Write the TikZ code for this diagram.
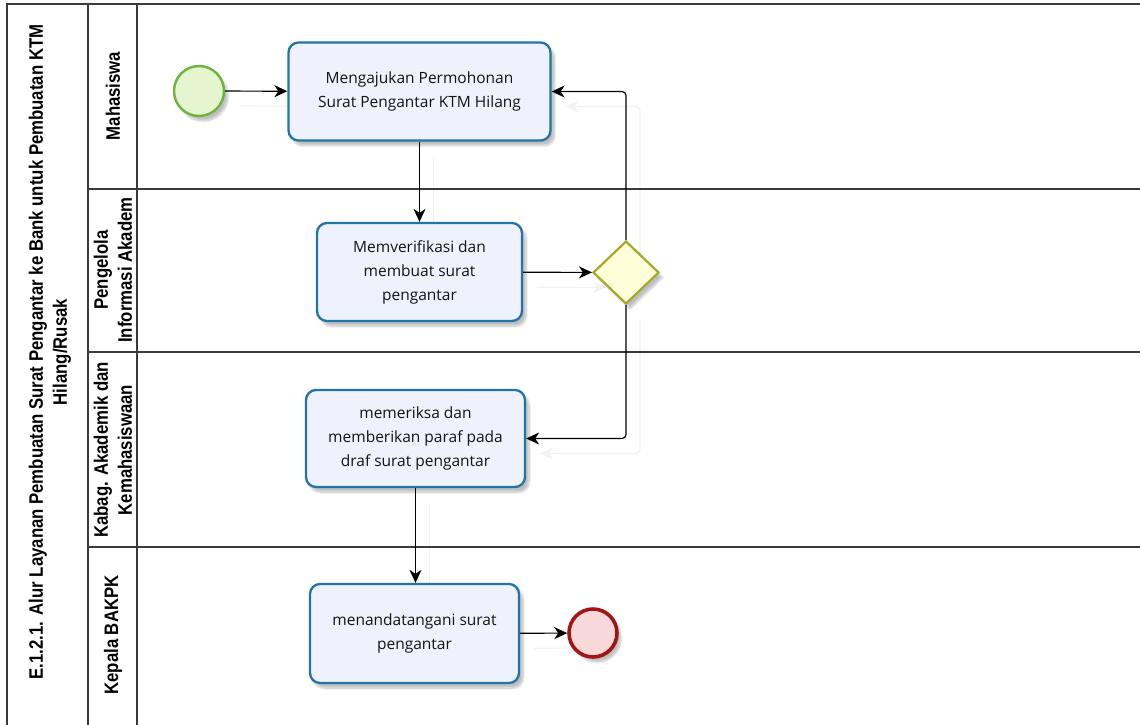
\documentclass[tikz,border=0pt]{standalone}
\usepackage{fontspec}
\setmainfont{Open Sans}
\newfontfamily\lanefont[FakeStretch=0.86]{Liberation Sans}
\usetikzlibrary{shapes.geometric,arrows.meta,shadows.blur,backgrounds}

\definecolor{taskblue}{HTML}{2274A5}
\definecolor{taskfill}{HTML}{EEF2FC}
\definecolor{startgreen}{HTML}{6DB33F}
\definecolor{startfill}{HTML}{E4F5CF}
\definecolor{endred}{HTML}{A31515}
\definecolor{endfill}{HTML}{F7D9DA}
\definecolor{gwline}{HTML}{A5A829}
\definecolor{gwfill}{HTML}{FEFED8}
\definecolor{laneline}{HTML}{3A3A3A}

\tikzset{
  softshadow/.style={blur shadow={shadow xshift=4pt,shadow yshift=-5pt,shadow blur steps=8,shadow opacity=25}},
  task/.style={rectangle,rounded corners=10pt,draw=taskblue,line width=2.3pt,fill=taskfill,
    align=center,font=\fontsize{15.5}{24}\selectfont,text=black!92,softshadow},
  startev/.style={circle,draw=startgreen,line width=2.4pt,fill=startfill,minimum size=50pt,inner sep=0pt,softshadow},
  endev/.style={circle,draw=endred,line width=3.6pt,fill=endfill,minimum size=48pt,inner sep=0pt,softshadow},
  gateway/.style={diamond,draw=gwline,line width=2.2pt,fill=gwfill,minimum width=66pt,minimum height=63pt,inner sep=0pt,softshadow},
  conn/.style={draw=black,line width=1.2pt,rounded corners=4pt,-{Stealth[length=13pt,width=12pt,inset=4pt]}},
  ghost/.style={draw=black!5,line width=1.2pt,rounded corners=4pt,-{Stealth[length=13pt,width=12pt,inset=4pt]}},
  lanebox/.style={draw=laneline,line width=1.4pt},
  lanelabel/.style={rotate=90,align=center,font=\lanefont\bfseries\fontsize{19.5}{24}\selectfont},
}

\begin{document}
\begin{tikzpicture}[x=1pt,y=-1pt]
  \useasboundingbox (0,0) rectangle (1140,724);
  \begin{scope}
    \clip (0,0) rectangle (1140,724);
    % pool outline, title column and lane header column
    \draw[lanebox] (7,4) rectangle (1160,740);
    \draw[lanebox] (88,4) -- (88,740);
    \draw[lanebox] (137,4) -- (137,740);
    % lane separators
    \draw[lanebox] (88,189) -- (1160,189);
    \draw[lanebox] (88,352) -- (1160,352);
    \draw[lanebox] (88,547) -- (1160,547);
  \end{scope}

  % pool title and lane names
  \node[lanelabel] (title) at (50,352)
    {E.1.2.1. Alur Layanan Pembuatan Surat Pengantar ke Bank untuk Pembuatan KTM\\Hilang/Rusak};
  \node[lanelabel] (laneA) at (113,96) {Mahasiswa};
  \node[lanelabel] (laneB) at (113,270) {Pengelola\\Informasi Akadem};
  \node[lanelabel] (laneC) at (113,450) {Kabag. Akademik dan\\Kemahasiswaan};
  \node[lanelabel] (laneD) at (113,635) {Kepala BAKPK};

  % flow elements
  \node[startev] (start) at (199,91) {};
  \node[task,minimum width=262pt,minimum height=98pt] (t1) at (419.5,91.5)
    {Mengajukan Permohonan\\Surat Pengantar KTM Hilang};
  \node[task,minimum width=205pt,minimum height=98pt] (t2) at (419.5,272)
    {Memverifikasi dan\\membuat surat\\pengantar};
  \node[gateway] (gw) at (626,272.5) {};
  \node[task,minimum width=219pt,minimum height=97pt] (t3) at (415.5,438.5)
    {memeriksa dan\\memberikan paraf pada\\draf surat pengantar};
  \node[task,minimum width=209pt,minimum height=99pt] (t4) at (414.5,633.5)
    {menandatangani surat\\pengantar};
  \node[endev] (end) at (593,633) {};

  % faint shadows of the sequence flows, kept behind everything else
  \begin{scope}[on background layer]
    \begin{scope}[transform canvas={shift={(14pt,-15pt)}}]
      \draw[ghost] (start) -- (t1);
      \draw[ghost] (t1.south) -- (t1.south |- t2.north);
      \draw[ghost] (t2) -- (gw);
      \draw[ghost] (gw.north) |- (t1.east);
      \draw[ghost] (gw.south) |- (t3.east);
      \draw[ghost] (t3.south) -- (t3.south |- t4.north);
      \draw[ghost] (t4) -- (end);
    \end{scope}
  \end{scope}

  % sequence flows
  \draw[conn] (start) -- (t1);
  \draw[conn] (t1.south) -- (t1.south |- t2.north);
  \draw[conn] (t2) -- (gw);
  \draw[conn] (gw.north) |- (t1.east);
  \draw[conn] (gw.south) |- (t3.east);
  \draw[conn] (t3.south) -- (t3.south |- t4.north);
  \draw[conn] (t4) -- (end);
\end{tikzpicture}
\end{document}
